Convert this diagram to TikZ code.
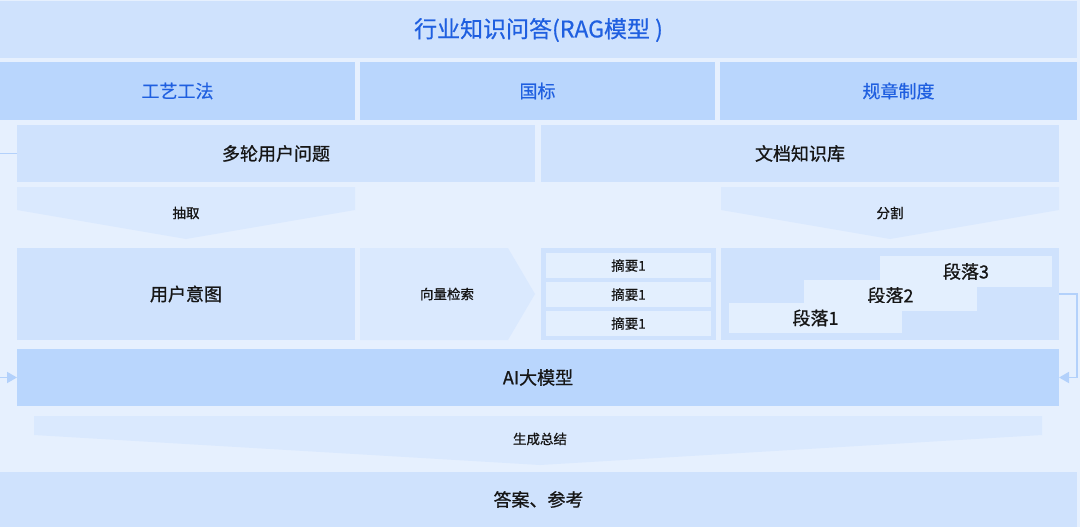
\documentclass[tikz,border=0pt]{standalone}
\usepackage{fontspec}
\setmainfont{Noto Sans CJK SC}
\newfontfamily\medfont{Noto Sans CJK SC}[FakeBold=0.9]
\newfontfamily\bluefont{Noto Sans CJK SC}[FakeBold=0.5]
\usetikzlibrary{arrows.meta}
\definecolor{bg}{HTML}{E6F0FE}
\definecolor{band}{HTML}{CFE2FD}
\definecolor{deep}{HTML}{B9D6FD}
\definecolor{chev}{HTML}{DAE9FE}
\definecolor{inner}{HTML}{E3EFFE}
\definecolor{tblue}{HTML}{1F5FE0}
\definecolor{link}{HTML}{B3D1FB}
\definecolor{ink}{HTML}{161616}
\begin{document}
\begin{tikzpicture}[x=1pt,y=-1pt,
  blk/.style={inner sep=0pt, outer sep=0pt, draw=none, text=ink},
  bandbox/.style={blk, fill=band},
  deepbox/.style={blk, fill=deep},
  innerbox/.style={blk, fill=inner},
  bigtxt/.style={font=\medfont\fontsize{18}{21}\selectfont},
  smalltxt/.style={font=\medfont\fontsize{13.5}{16}\selectfont},
  titletxt/.style={font=\bluefont\fontsize{23}{27}\selectfont, text=tblue},
  headtxt/.style={font=\bluefont\fontsize{18}{21}\selectfont, text=tblue},
  linkline/.style={draw=link, line width=1.8pt, -{Triangle[length=10pt,width=11pt]}}
]
\fill[bg] (0,0) rectangle (1080,527);
\useasboundingbox (0,0) rectangle (1080,527);

% title
\node[bandbox, titletxt, minimum width=1077, minimum height=57] (title) at (538.5,30) {行业知识问答(RAG模型 )};
% row 2
\node[deepbox, headtxt, minimum width=355, minimum height=58] (h1) at (177.5,91) {工艺工法};
\node[deepbox, headtxt, minimum width=355, minimum height=58] (h2) at (537.5,91) {国标};
\node[deepbox, headtxt, minimum width=357, minimum height=58] (h3) at (898.5,91) {规章制度};

% row 3
\node[bandbox, bigtxt, minimum width=518, minimum height=57] (q) at (276,153.5) {多轮用户问题};
\node[bandbox, bigtxt, minimum width=518, minimum height=57] (doc) at (800,153.5) {文档知识库};

% chevrons
\fill[chev] (17,187) -- (355,187) -- (355,210) -- (186,239) -- (17,210) -- cycle;
\node[blk, smalltxt] (extract) at (186,213) {抽取};
\fill[chev] (721,187) -- (1059,187) -- (1059,210) -- (890,239) -- (721,210) -- cycle;
\node[blk, smalltxt] (split) at (890,213) {分割};

% row 4
\node[bandbox, bigtxt, minimum width=338, minimum height=92] (intent) at (186,294) {用户意图};
\fill[chev] (360,248) -- (508,248) -- (535,294) -- (508,340) -- (360,340) -- cycle;
\node[blk, smalltxt] (search) at (447,294) {向量检索};

\node[bandbox, minimum width=175, minimum height=92] (sc) at (628.5,294) {};
\node[innerbox, smalltxt, minimum width=165, minimum height=25] (s1) at (628.5,265.5) {摘要1};
\node[innerbox, smalltxt, minimum width=165, minimum height=25] (s2) at (628.5,294.5) {摘要1};
\node[innerbox, smalltxt, minimum width=165, minimum height=25] (s3) at (628.5,323.5) {摘要1};

\node[bandbox, minimum width=338, minimum height=92] (pc) at (890,294) {};
\node[innerbox, bigtxt, minimum width=172, minimum height=31] (p3) at (966,271.5) {段落3};
\node[innerbox, bigtxt, minimum width=173, minimum height=31] (p2) at (890.5,295.5) {段落2};
\node[innerbox, bigtxt, minimum width=173, minimum height=30] (p1) at (815.5,318) {段落1};

% AI
\node[deepbox, bigtxt, minimum width=1042, minimum height=57] (ai) at (538,377.5) {AI大模型};

% generate chevron
\fill[chev] (34,416) -- (1042,416) -- (1042,435) -- (540,465) -- (34,435) -- cycle;
\node[blk, smalltxt] (gen) at (540,439) {生成总结};

% answer
\node[bandbox, bigtxt, minimum width=1077, minimum height=55] (ans) at (538.5,499.5) {答案、参考};

% connectors
\draw[linkline] (q.west) -- ++(-20,0) |- (ai.west);
\draw[linkline] (pc.east) -- ++(18,0) |- (ai.east);
\end{tikzpicture}
\end{document}
